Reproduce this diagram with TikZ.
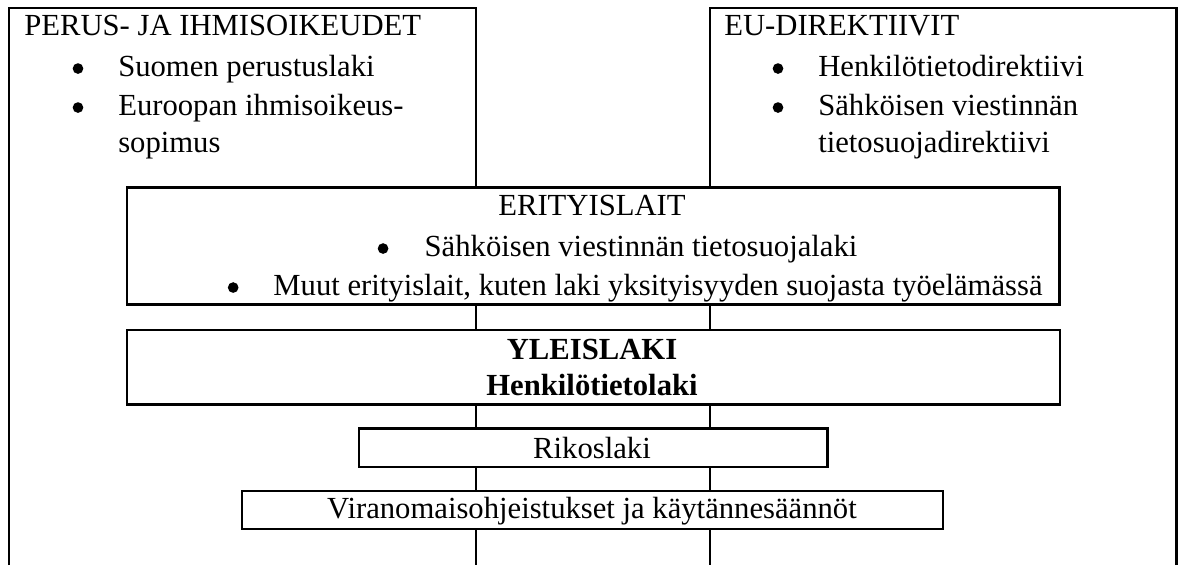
\documentclass[tikz,border=0pt]{standalone}
\usepackage{fontspec}
\setmainfont{Liberation Serif}
\begin{document}
\begin{tikzpicture}[x=0.75pt,y=-0.75pt,
  frame/.style={line width=1.7pt,black},
  lawbox/.style={draw,line width=1.7pt,fill=white,rectangle,inner sep=0pt},
  txt/.style={inner sep=0pt,anchor=base,font=\fontsize{23}{27}\selectfont},
  txtw/.style={inner sep=0pt,anchor=base west,font=\fontsize{23}{27}\selectfont},
  bul/.style={circle,fill=black,inner sep=0pt,minimum size=8pt}]
\useasboundingbox (0,0) rectangle (1184,565);

% boxes (sizes in pt = px * 0.75)
\node[lawbox,minimum width=699.6pt,minimum height=87.75pt] (erit) at (593.1,246) {};
\node[lawbox,minimum width=699.75pt,minimum height=55.7pt] (yleis) at (593.2,367.3) {};
\node[lawbox,minimum width=351.2pt,minimum height=28.7pt] (riko) at (593.3,447.6) {};
\node[lawbox,minimum width=526.05pt,minimum height=28.8pt] (viran) at (592.5,510) {};

% frame coordinates
\coordinate (topL) at (476.2,7.9);
\coordinate (topR) at (710.2,7.9);
\coordinate (botL) at (476.2,565);
\coordinate (botR) at (710.2,565);
\coordinate (cornerLT) at (9.3,7.9);
\coordinate (cornerLB) at (9.3,565);
\coordinate (cornerRT) at (1176.5,7.9);
\coordinate (cornerRB) at (1176.5,565);

% outer frame
\draw[frame,line join=miter] (cornerLB) -- (cornerLT) -- (topL) -- (topL |- erit.north);
\draw[frame,line join=miter] (cornerRB) -- (cornerRT) -- (topR) -- (topR |- erit.north);
% vertical connectors
\foreach \c/\b in {topL/botL,topR/botR}{
  \draw[frame] (erit.south -| \c) -- (yleis.north -| \c);
  \draw[frame] (yleis.south -| \c) -- (riko.north -| \c);
  \draw[frame] (riko.south -| \c) -- (viran.north -| \c);
  \draw[frame] (viran.south -| \c) -- (\b);
}

% top left texts
\node[txtw] (perusT) at (24,35) {PERUS- JA IHMISOIKEUDET};
\node[txtw] (perus1) at (118,76) {Suomen perustuslaki};
\node[txtw] (perus2) at (118,115) {Euroopan ihmisoikeus-};
\node[txtw] (perus3) at (118,152) {sopimus};
\node[bul] (pb1) at ([xshift=-30pt,yshift=5.6pt]perus1.base west) {};
\node[bul] (pb2) at ([xshift=-30pt,yshift=5.6pt]perus2.base west) {};

% top right texts
\node[txtw] (euT) at (724,35) {EU-DIREKTIIVIT};
\node[txtw] (eu1) at (818,76) {Henkilötietodirektiivi};
\node[txtw] (eu2) at (818,115) {Sähköisen viestinnän};
\node[txtw] (eu3) at (818,152) {tietosuojadirektiivi};
\node[bul] (eb1) at ([xshift=-30pt,yshift=5.6pt]eu1.base west) {};
\node[bul] (eb2) at ([xshift=-30pt,yshift=5.6pt]eu2.base west) {};

% erityislait
\node[txt] (eritT) at (592,215) {ERITYISLAIT};
\node[txt] (erit1) at (641,256) {Sähköisen viestinnän tietosuojalaki};
\node[txt] (erit2) at (658,295) {Muut erityislait, kuten laki yksityisyyden suojasta työelämässä};
\node[bul] (rb1) at ([xshift=-31pt,yshift=5.6pt]erit1.base west) {};
\node[bul] (rb2) at ([xshift=-30pt,yshift=5.6pt]erit2.base west) {};

% yleislaki
\node[txt,font=\fontsize{23}{27}\selectfont\bfseries] (yleisT) at (592,359) {YLEISLAKI};
\node[txt,font=\fontsize{23}{27}\selectfont\bfseries] (yleis1) at (592,395) {Henkilötietolaki};

% rikoslaki
\node[txt] (rikoT) at (592,458) {Rikoslaki};

% viranomais
\node[txt] (viranT) at (592,518) {Viranomaisohjeistukset ja käytännesäännöt};
\end{tikzpicture}
\end{document}
